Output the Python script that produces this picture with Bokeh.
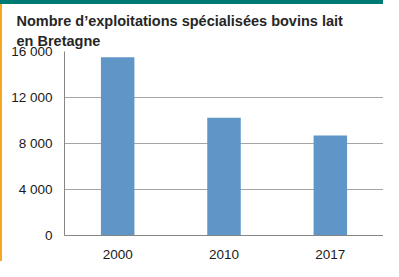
from bokeh.plotting import figure
from bokeh.models import Title, FixedTicker, Range1d, FactorRange
from bokeh.embed import file_html
from bokeh.resources import INLINE

title_lines = ["Nombre d\u2019exploitations spécialisées bovins lait", "en Bretagne"]
categories = ["2000", "2010", "2017"]
values = [15500, 10250, 8700]
y_ticks = [0, 4000, 8000, 12000, 16000]
y_tick_labels = ["0", "4 000", "8 000", "12 000", "16 000"]

W, H = 383, 261
p = figure(width=W, height=H, x_range=FactorRange(*categories, range_padding=0),
           y_range=Range1d(0, 16000), output_backend="svg", toolbar_location=None,
           min_border_left=64, min_border_right=0, min_border_top=51, min_border_bottom=26)
p.styles = {"background-color": "white",
            "box-shadow": "inset 0 4px 0 #007A72, inset 2px 0 0 #F5A623"}
p.outline_line_color = None
p.background_fill_color = "white"
p.border_fill_alpha = 0

p.vbar(x=categories, top=values, width=0.315, color="#5F96C7", line_color=None)

p.xgrid.grid_line_color = None
p.ygrid.grid_line_color = "#A6A6A6"
p.ygrid.grid_line_width = 1
p.yaxis.ticker = FixedTicker(ticks=y_ticks)
p.yaxis.major_label_overrides = {t: l for t, l in zip(y_ticks, y_tick_labels)}
for ax in (p.xaxis, p.yaxis):
    ax.axis_line_color = "#868686"
    ax.major_tick_line_color = None
    ax.minor_tick_line_color = None
    ax.major_tick_out = 0
    ax.major_tick_in = 0
    ax.major_label_text_font = "Liberation Sans"
    ax.major_label_text_font_size = "13.5px"
    ax.major_label_text_color = "#1a1a1a"
p.yaxis.major_label_standoff = 12
p.xaxis.major_label_standoff = 14
p.xaxis.major_label_text_line_height = 0.7

t = Title(text="\n".join(title_lines), text_font="Liberation Sans", text_font_style="bold",
          text_font_size="14.5px", text_color="#262626", align="left", offset=-48,
          text_line_height=1.3, standoff=4)
p.add_layout(t, "above")

open("out.html", "w").write(file_html(p, INLINE))
